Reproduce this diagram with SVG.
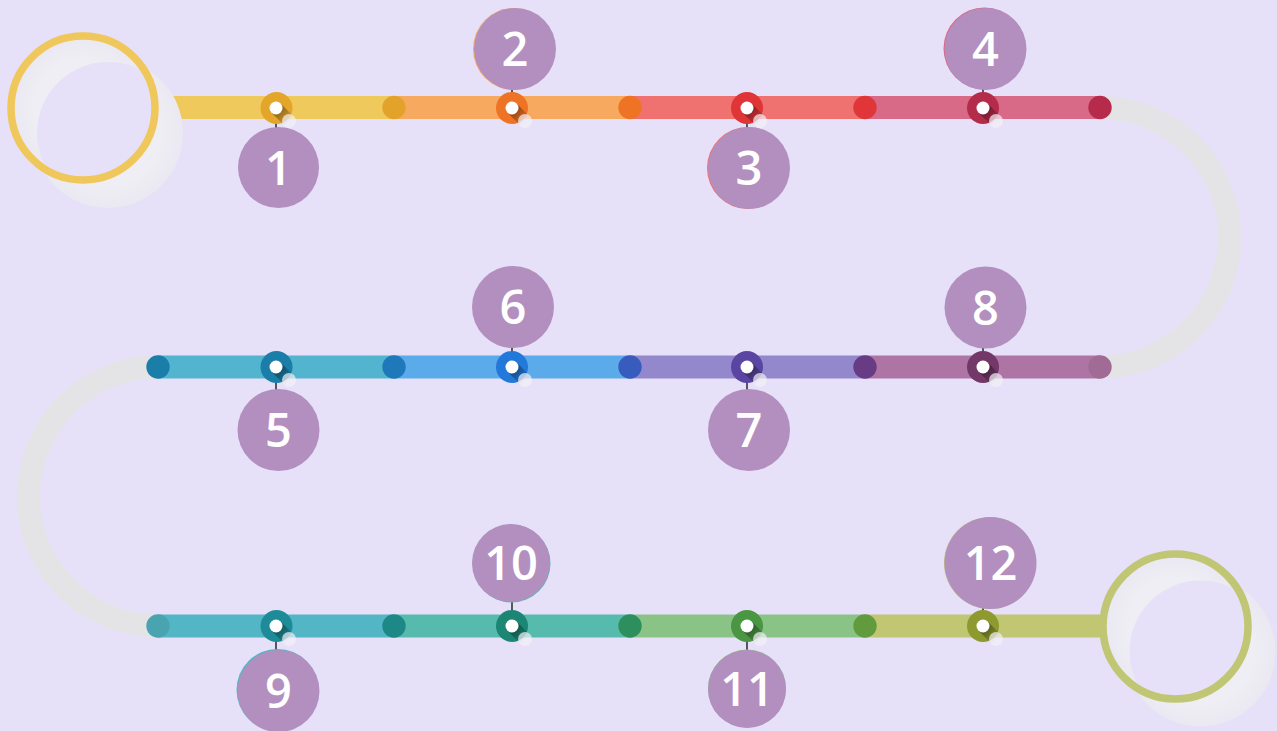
<svg xmlns="http://www.w3.org/2000/svg" width="1277" height="731" viewBox="0 0 1277 731">
<style>
.bar{stroke-width:23;fill:none;stroke-linecap:butt}
.curve{stroke:#E4E4E6;stroke-width:23;fill:none}
.lbl{fill:#B38FC0}
.num{font-family:"Open Sans","Liberation Sans",Arial,sans-serif;font-weight:600;font-size:47px;fill:#FFFFFF;text-anchor:middle}
.conn{stroke:#333333;stroke-width:1.6}
.dot{fill:#FFFFFF}
</style>
<defs>
<linearGradient id="sh" gradientUnits="userSpaceOnUse" x1="0" y1="0" x2="14" y2="14">
<stop offset="0" stop-color="#000" stop-opacity="0.45"/>
<stop offset="0.6" stop-color="#000" stop-opacity="0.2"/>
<stop offset="1" stop-color="#000" stop-opacity="0"/>
</linearGradient>
<radialGradient id="ringfill" cx="0.5" cy="0.5" r="0.5">
<stop offset="0.7" stop-color="#EFEEF4"/>
<stop offset="1" stop-color="#EAE8F1"/>
</radialGradient>
<g id="pin">
<line x1="1" y1="1" x2="13" y2="13" stroke="url(#sh)" stroke-width="13"/>
<circle cx="13" cy="13" r="7" fill="#F2F1F6" opacity="0.7"/>
<circle cx="0" cy="0" r="6.5" class="dot"/>
</g>
<clipPath id="in1"><circle cx="83" cy="108" r="69"/></clipPath>
<clipPath id="in2"><circle cx="1175.5" cy="626.5" r="69"/></clipPath>
</defs>
<rect width="1277" height="731" fill="#E6E1F8"/>

<g id="connectors">
<path class="curve" d="M1100 107.5 A129.75 129.75 0 0 1 1100 367"/>
<path class="curve" d="M158 367 A129.5 129.5 0 0 0 158 626"/>
<line class="conn" x1="276" y1="108" x2="276" y2="128"/>
<line class="conn" x1="512" y1="88" x2="512" y2="108"/>
<line class="conn" x1="747" y1="108" x2="747" y2="128"/>
<line class="conn" x1="983" y1="88" x2="983" y2="108"/>
<line class="conn" x1="276" y1="367" x2="276" y2="390"/>
<line class="conn" x1="512" y1="347" x2="512" y2="367"/>
<line class="conn" x1="747" y1="367" x2="747" y2="390"/>
<line class="conn" x1="983" y1="347" x2="983" y2="367"/>
<line class="conn" x1="276" y1="626" x2="276" y2="651"/>
<line class="conn" x1="512" y1="601" x2="512" y2="626"/>
<line class="conn" x1="747" y1="626" x2="747" y2="651"/>
<line class="conn" x1="983" y1="607" x2="983" y2="626"/>
</g>

<g id="row1">
<line class="bar" x1="150" y1="107.5" x2="394" y2="107.5" stroke="#F0C95C"/>
<line class="bar" x1="394" y1="107.5" x2="630" y2="107.5" stroke="#F7AA5F"/>
<line class="bar" x1="630" y1="107.5" x2="865" y2="107.5" stroke="#EF7170"/>
<line class="bar" x1="865" y1="107.5" x2="1100" y2="107.5" stroke="#D96A87"/>
<circle cx="394" cy="107.5" r="11.7" fill="#E3A32A"/>
<circle cx="630" cy="107.5" r="11.7" fill="#EF7324"/>
<circle cx="865" cy="107.5" r="11.7" fill="#E0363A"/>
<circle cx="1100" cy="107.5" r="11.7" fill="#B62B4B"/>
</g>
<g id="row2">
<line class="bar" x1="158" y1="367" x2="394" y2="367" stroke="#52B4CF"/>
<line class="bar" x1="394" y1="367" x2="630" y2="367" stroke="#5BAAE9"/>
<line class="bar" x1="630" y1="367" x2="865" y2="367" stroke="#9388CC"/>
<line class="bar" x1="865" y1="367" x2="1100" y2="367" stroke="#AE74A3"/>
<circle cx="158" cy="367" r="11.7" fill="#1B7EA8"/>
<circle cx="394" cy="367" r="11.7" fill="#1E78BA"/>
<circle cx="630" cy="367" r="11.7" fill="#385CBD"/>
<circle cx="865" cy="367" r="11.7" fill="#683C85"/>
<circle cx="1100" cy="367" r="11.7" fill="#A06B95"/>
</g>
<g id="row3">
<line class="bar" x1="158" y1="626" x2="394" y2="626" stroke="#53B6C5"/>
<line class="bar" x1="394" y1="626" x2="630" y2="626" stroke="#56BBAD"/>
<line class="bar" x1="630" y1="626" x2="865" y2="626" stroke="#89C486"/>
<line class="bar" x1="865" y1="626" x2="1105" y2="626" stroke="#C0C671"/>
<circle cx="158" cy="626" r="11.7" fill="#4AA4B0"/>
<circle cx="394" cy="626" r="11.7" fill="#1E8886"/>
<circle cx="630" cy="626" r="11.7" fill="#2E8F5E"/>
<circle cx="865" cy="626" r="11.7" fill="#629A3E"/>
</g>

<g id="start">
<circle cx="108" cy="133" r="75" fill="url(#ringfill)"/>
<circle cx="83" cy="108" r="70" fill="url(#ringfill)"/>
<circle cx="108" cy="133" r="71" fill="#E6E1F8" clip-path="url(#in1)"/>
<circle cx="83" cy="108" r="72" fill="none" stroke="#F0C75A" stroke-width="7.5"/>
</g>
<g id="end">
<circle cx="1200.5" cy="651.5" r="75" fill="url(#ringfill)"/>
<circle cx="1175.5" cy="626.5" r="70" fill="url(#ringfill)"/>
<circle cx="1200.5" cy="651.5" r="71" fill="#E6E1F8" clip-path="url(#in2)"/>
<circle cx="1175.5" cy="626.5" r="72.5" fill="none" stroke="#C0C674" stroke-width="7.5"/>
</g>

<g id="step1"><circle cx="276.5" cy="108" r="16" fill="#E4A52B"/><use href="#pin" x="276" y="108"/><circle class="lbl" cx="278.5" cy="167.5" r="40.5"/><text class="num" x="278.5" y="184.5">1</text></g>
<g id="step2"><circle cx="512" cy="108" r="16" fill="#EF7324"/><use href="#pin" x="512" y="108"/><circle cx="514" cy="49" r="41" fill="#F7AA5F"/><circle class="lbl" cx="515" cy="49" r="41"/><text class="num" x="515" y="66">2</text></g>
<g id="step3"><circle cx="747" cy="108" r="16" fill="#E03537"/><use href="#pin" x="747" y="108"/><circle cx="748" cy="168" r="41" fill="#EF7170"/><circle class="lbl" cx="749" cy="168" r="41"/><text class="num" x="749" y="185">3</text></g>
<g id="step4"><circle cx="983" cy="108" r="16" fill="#B52C4B"/><use href="#pin" x="983" y="108"/><circle cx="984.5" cy="48.5" r="41" fill="#D96A87"/><circle class="lbl" cx="985.5" cy="49" r="41"/><text class="num" x="985.5" y="66">4</text></g>
<g id="step5"><circle cx="276.5" cy="367" r="16" fill="#1B7EA8"/><use href="#pin" x="276" y="367"/><circle class="lbl" cx="278.5" cy="430" r="41"/><text class="num" x="278.5" y="447">5</text></g>
<g id="step6"><circle cx="512" cy="367" r="16" fill="#2379D9"/><use href="#pin" x="512" y="367"/><circle class="lbl" cx="513" cy="307" r="41"/><text class="num" x="513" y="324">6</text></g>
<g id="step7"><circle cx="747" cy="367" r="16" fill="#5A46A2"/><use href="#pin" x="747" y="367"/><circle class="lbl" cx="749" cy="430" r="41"/><text class="num" x="749" y="447">7</text></g>
<g id="step8"><circle cx="983" cy="367" r="16" fill="#733868"/><use href="#pin" x="983" y="367"/><circle class="lbl" cx="985.5" cy="307.5" r="41"/><text class="num" x="985.5" y="324.5">8</text></g>
<g id="step9"><circle cx="276.5" cy="626" r="16" fill="#1E8C98"/><use href="#pin" x="276" y="626"/><circle cx="277.5" cy="690" r="41" fill="#53B6C5"/><circle class="lbl" cx="278.5" cy="691" r="41"/><text class="num" x="278.5" y="708">9</text></g>
<g id="step10"><circle cx="512" cy="626" r="16" fill="#1C8675"/><use href="#pin" x="512" y="626"/><circle cx="511.5" cy="563.5" r="39" fill="#56BBAD"/><circle class="lbl" cx="511" cy="563" r="39"/><text class="num" x="511" y="580">10</text></g>
<g id="step11"><circle cx="747" cy="626" r="16" fill="#4A9643"/><use href="#pin" x="747" y="626"/><circle cx="747" cy="688.5" r="39" fill="#89C486"/><circle class="lbl" cx="747" cy="689" r="39"/><text class="num" x="747" y="706">11</text></g>
<g id="step12"><circle cx="983" cy="626" r="16" fill="#8E9A2F"/><use href="#pin" x="983" y="626"/><circle cx="990" cy="563" r="46" fill="#C0C671"/><circle class="lbl" cx="990.5" cy="563" r="46"/><text class="num" x="990.5" y="580">12</text></g>
</svg>
